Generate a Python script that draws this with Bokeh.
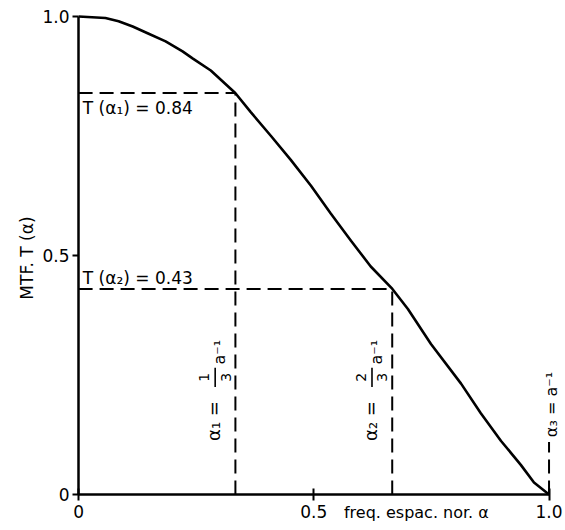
import math

from bokeh.plotting import figure
from bokeh.models import Range1d, FixedTicker, Label
from bokeh.embed import file_html
from bokeh.resources import INLINE

FONT = "DejaVu Sans"

# Normalised spatial frequency and modulation transfer values of the curve
mtf_freq = [0.0, 0.057, 0.085, 0.115, 0.149, 0.185, 0.221, 0.243, 0.281, 0.333,
            0.366, 0.409, 0.451, 0.494, 0.536, 0.579, 0.621, 0.667, 0.70, 0.749,
            0.813, 0.855, 0.898, 0.94, 0.968, 1.0]
mtf_vals = [1.0, 0.997, 0.99, 0.979, 0.964, 0.948, 0.927, 0.912, 0.887, 0.84,
            0.80, 0.75, 0.70, 0.646, 0.588, 0.531, 0.477, 0.43, 0.388, 0.315,
            0.232, 0.17, 0.112, 0.062, 0.025, 0.0]

# Marked frequencies and their transfer values
mark_freqs = [1 / 3, 2 / 3]
mark_vals = [0.84, 0.43]
mark_names = ["α₁", "α₂"]
mark_num = ["1", "2"]
cutoff_freq = 1.0
cutoff_marker_top = 0.11

x_ticks = [0, 0.5, 1.0]
x_tick_text = ["0", "0.5", "1.0"]
y_ticks = [0, 0.5, 1.0]
y_tick_text = ["0", "0.5", "1.0"]

# The frame covers the whole canvas; both axes sit at zero inside it and are
# bounded to [0, 1], so every label around them stays visible.
p = figure(width=565, height=530, output_backend="svg", toolbar_location=None,
           x_range=Range1d(-0.166, 1.035), y_range=Range1d(-0.0753, 1.0335),
           min_border_left=0, min_border_right=0, min_border_top=0,
           min_border_bottom=0)
p.outline_line_color = None
p.xgrid.visible = False
p.ygrid.visible = False
p.background_fill_color = "white"
p.border_fill_color = "white"

for ax in (p.xaxis[0], p.yaxis[0]):
    ax.axis_line_width = 2.5
    ax.axis_line_color = "black"
    ax.major_tick_line_width = 2
    ax.major_tick_line_color = "black"
    ax.minor_tick_line_color = None
    ax.major_label_text_font = FONT
    ax.major_label_text_font_size = "17px"
    ax.major_label_text_color = "black"
    ax.bounds = (0, 1)
    ax.fixed_location = 0

p.xaxis.ticker = FixedTicker(ticks=x_ticks)
p.xaxis.major_label_overrides = dict(zip(x_ticks, x_tick_text))
p.xaxis.major_tick_in = 6
p.xaxis.major_tick_out = 6
p.xaxis.major_label_standoff = 4

p.yaxis.ticker = FixedTicker(ticks=y_ticks)
p.yaxis.major_label_overrides = dict(zip(y_ticks, y_tick_text))
p.yaxis.major_tick_in = 0
p.yaxis.major_tick_out = 6
p.yaxis.major_label_standoff = 3

# Dashed guide lines from the axes to the curve
dash = "14 7"
for f, t in zip(mark_freqs, mark_vals):
    p.line([0, f], [t, t], line_color="black", line_width=2, line_dash=dash)
    p.line([f, f], [0, t], line_color="black", line_width=2, line_dash=dash)
p.line([cutoff_freq, cutoff_freq], [0, cutoff_marker_top], line_color="black",
       line_width=2, line_dash=dash)

# MTF curve
p.line(mtf_freq, mtf_vals, line_color="black", line_width=2.6)


def add_text(x, y, text, size="15px", angle=0.0, align="left"):
    p.add_layout(Label(x=x, y=y, text=text, angle=angle, text_align=align,
                       text_baseline="middle", text_font=FONT,
                       text_font_size=size, text_color="black"))


up = math.pi / 2

# Vertical axis title
add_text(-0.11, 0.506, "MTF.  T  (α)", size="17px", angle=up, align="center")

# Value labels for the horizontal guides
add_text(0.009, 0.808, "T (α₁)  =  0.84", size="17px")
add_text(0.009, 0.452, "T (α₂)  =  0.43", size="17px")

# Vertical frequency labels with stacked fractions
for f, name, num in zip(mark_freqs, mark_names, mark_num):
    add_text(f - 0.047, 0.112, name + " =", size="18px", angle=up)
    add_text(f - 0.066, 0.245, num, size="14px", angle=up, align="center")
    add_text(f - 0.021, 0.245, "3", size="14px", angle=up, align="center")
    p.segment(x0=[f - 0.043], y0=[0.225], x1=[f - 0.043], y1=[0.265],
              line_color="black", line_width=1.6)
    add_text(f - 0.033, 0.272, "a⁻¹", size="16px", angle=up)

add_text(cutoff_freq + 0.006, 0.12, "α₃ = a⁻¹", size="16px", angle=up)

# Horizontal axis title placed beside the 1.0 tick
add_text(0.564, -0.038, "freq. espac. nor. α", size="16px")

open("out.html", "w").write(file_html(p, INLINE))
